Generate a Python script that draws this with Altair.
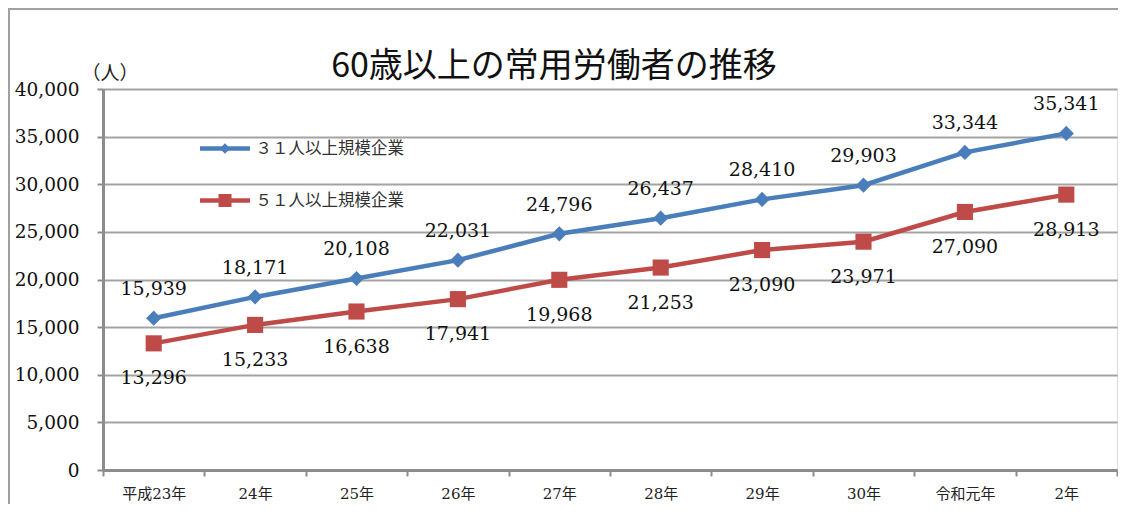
import altair as alt
import pandas as pd

years = ["平成23年", "24年", "25年", "26年", "27年", "28年", "29年", "30年", "令和元年", "2年"]
series_names = ["３１人以上規模企業", "５１人以上規模企業"]
s31 = [15939, 18171, 20108, 22031, 24796, 26437, 28410, 29903, 33344, 35341]
s51 = [13296, 15233, 16638, 17941, 19968, 21253, 23090, 23971, 27090, 28913]

colors = ["#4A7EBB", "#BE4B48"]

rows = []
for y, v in zip(years, s31):
    rows.append({"年": y, "系列": series_names[0], "人数": v})
for y, v in zip(years, s51):
    rows.append({"年": y, "系列": series_names[1], "人数": v})
df = pd.DataFrame(rows)

W, H = 1014, 381
SERIF = "DejaVu Serif, Noto Sans CJK JP"
CJK = "Noto Sans CJK JP"

xenc = alt.X("年:N", sort=years,
             scale=alt.Scale(type="band", paddingInner=0, paddingOuter=0),
             axis=alt.Axis(title=None, tickBand="extent", labelAngle=0,
                           labelFont=SERIF, labelFontSize=15, labelColor="#222",
                           labelPadding=10, tickSize=6, tickColor="#8c8c8c",
                           tickWidth=2, domainColor="#8c8c8c", domainWidth=3,
                           grid=False))
yenc = alt.Y("人数:Q",
             scale=alt.Scale(domain=[0, 40000]),
             axis=alt.Axis(values=list(range(0, 40001, 5000)), format=",.0f",
                           title="（人）", titleAngle=0, titleX=-22, titleY=-10,
                           titleAlign="left", titleBaseline="alphabetic",
                           titleFont=CJK, titleFontSize=19, titleFontWeight="normal",
                           titleColor="#222",
                           labelFont=SERIF, labelFontSize=18.5, labelColor="#111",
                           labelPadding=18, tickSize=6, tickColor="#8c8c8c",
                           tickWidth=2, domainColor="#8c8c8c", domainWidth=3,
                           grid=True, gridColor="#a3a3a3", gridWidth=2))

cscale = alt.Scale(domain=series_names, range=colors)

base = alt.Chart(df)

lines = base.mark_line(strokeWidth=4.5).encode(
    x=xenc, y=yenc,
    color=alt.Color("系列:N", scale=cscale, legend=None),
)

pts31 = base.transform_filter(alt.datum["系列"] == series_names[0]).mark_point(
    shape="diamond", filled=True, size=230, opacity=1).encode(
    x=xenc, y=yenc,
    color=alt.Color("系列:N", scale=cscale, legend=None))

pts51 = base.transform_filter(alt.datum["系列"] == series_names[1]).mark_point(
    shape="square", filled=True, size=260, opacity=1).encode(
    x=xenc, y=yenc,
    color=alt.Color("系列:N", scale=cscale, legend=None))

lab31 = base.transform_filter(alt.datum["系列"] == series_names[0]).mark_text(
    baseline="bottom", dy=-19, font=SERIF, fontSize=19, color="#111").encode(
    x=xenc, y=yenc,
    text=alt.Text("人数:Q", format=","))

lab51 = base.transform_filter(alt.datum["系列"] == series_names[1]).mark_text(
    baseline="top", dy=26, font=SERIF, fontSize=19, color="#111").encode(
    x=xenc, y=yenc,
    text=alt.Text("人数:Q", format=","))

path31 = "M-2,-0.18L2,-0.18L2,0.18L-2,0.18Z M0,-0.42L0.42,0L0,0.42L-0.42,0Z"
path51 = "M-2,-0.18L2,-0.18L2,0.18L-2,0.18Z M-0.52,-0.52L0.52,-0.52L0.52,0.52L-0.52,0.52Z"

leg = dict(title=None, orient="none", legendX=109.5, legendY=47,
           symbolSize=625, symbolOpacity=1, symbolStrokeWidth=0,
           labelFont=CJK, labelFontSize=16.5, labelColor="#333", labelOffset=18,
           rowPadding=31, padding=0, labelLimit=400)

legend_layer = base.mark_point(filled=True, opacity=0).encode(
    x=xenc, y=yenc,
    color=alt.Color("系列:N", scale=cscale, legend=alt.Legend(**leg)),
    shape=alt.Shape("系列:N", scale=alt.Scale(domain=series_names, range=[path31, path51]),
                    legend=alt.Legend(**leg)),
)

fdf = pd.DataFrame({"f": [0]})
frame_left = alt.Chart(fdf).mark_rect(fill="#a0a0a0", strokeWidth=0).encode(
    x=alt.value(-95), x2=alt.value(-93), y=alt.value(-81), y2=alt.value(H + 120))
frame_top = alt.Chart(fdf).mark_rect(fill="#a0a0a0", strokeWidth=0).encode(
    x=alt.value(-95), x2=alt.value(W + 1), y=alt.value(-81), y2=alt.value(-79))

chart = alt.layer(frame_left, frame_top, lines, pts31, pts51, lab31, lab51,
                  legend_layer).resolve_scale(
    color="independent", shape="independent"
).resolve_legend(color="independent", shape="independent").properties(
    width=W, height=H,
    title=alt.TitleParams("60歳以上の常用労働者の推移", font=CJK, fontSize=34,
                          fontWeight="normal", color="#111", anchor="middle",
                          dx=-56, offset=-76, frame="group"),
    autosize=alt.AutoSizeParams(type="none"),
    padding={"left": 95, "top": 81, "right": 1, "bottom": 34},
).configure_view(stroke=None, strokeWidth=0).configure(background="white")

chart.save("out.html", embed_options={"renderer": "svg", "actions": False})
